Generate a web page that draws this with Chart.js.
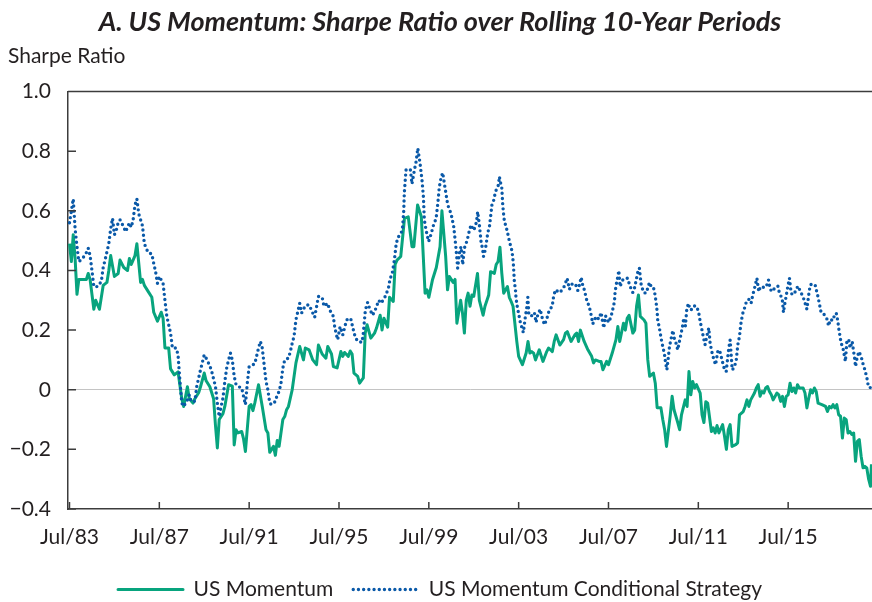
<!DOCTYPE html>
<html>
<head>
<meta charset="utf-8">
<script src="https://cdn.jsdelivr.net/npm/chart.js@4.4.1/dist/chart.umd.min.js"></script>
<style>
  body { margin: 0; overflow: hidden; background: #fff; }
  #wrap { width: 872px; height: 610px; }
</style>
</head>
<body>
<div id="wrap"><canvas id="sharpeChart"></canvas></div>
<script>
// months counted from Jul/83 (0 = Jul/83)
const tickLabels = ["Jul/83", "Jul/87", "Jul/91", "Jul/95", "Jul/99", "Jul/03", "Jul/07", "Jul/11", "Jul/15"];
const tickMonths = [0, 48, 96, 144, 192, 240, 288, 336, 384];
const seriesNames = ["US Momentum", "US Momentum Conditional Strategy"];

const momentumMonths = [
  0, 1, 2, 3, 4, 5, 9, 10, 11, 13,
  14, 16, 18, 20, 21, 22, 24, 26, 27, 29,
  31, 32, 33, 35, 36, 38, 39, 40, 42, 44,
  45, 47, 49, 50, 51, 53, 54, 56, 58, 60,
  61, 63, 64, 66, 67, 69, 70, 72, 73, 75,
  77, 78, 79, 80, 82, 83, 85, 87, 88, 89,
  90, 92, 93, 94, 96, 97, 98, 99, 101, 103,
  105, 106, 107, 109, 110, 111, 112, 114, 115, 116,
  117, 119, 121, 123, 125, 126, 128, 130, 132, 133,
  135, 137, 138, 140, 141, 143, 145, 146, 147, 149,
  150, 151, 152, 154, 155, 157, 158, 159, 161, 163,
  164, 166, 167, 168, 170, 171, 173, 174, 175, 177,
  179, 181, 183, 184, 186, 188, 190, 191, 192, 194,
  196, 198, 199, 201, 202, 203, 205, 206, 207, 209,
  210, 211, 212, 213, 214, 215, 216, 218, 219, 221,
  222, 224, 225, 227, 228, 229, 230, 231, 232, 234,
  235, 236, 237, 239, 240, 242, 244, 245, 246, 247,
  248, 249, 251, 253, 255, 256, 258, 259, 260, 262,
  264, 265, 266, 268, 270, 271, 272, 273, 275, 277,
  279, 280, 281, 283, 284, 285, 287, 288, 290, 292,
  293, 294, 296, 297, 298, 299, 301, 302, 303, 304,
  305, 307, 308, 309, 310, 312, 313, 314, 316, 317,
  318, 319, 321, 322, 323, 325, 326, 327, 329, 330,
  331, 332, 333, 334, 335, 337, 338, 339, 340, 341,
  343, 344, 345, 346, 347, 349, 350, 351, 352, 353,
  354, 356, 357, 358, 360, 361, 362, 363, 364, 366,
  367, 368, 369, 370, 371, 372, 373, 374, 375, 376,
  378, 379, 380, 381, 382, 383, 384, 385, 386, 387,
  388, 389, 390, 392, 393, 394, 395, 396, 397, 398,
  399, 400, 402, 404, 405, 406, 407, 408, 409, 410,
  411, 412, 413, 414, 415, 416, 417, 418, 419, 420,
  421, 422, 423, 424, 425, 426, 427, 428, 428.5
];
const momentumValues = [
  0.49, 0.43, 0.52, 0.44, 0.32, 0.37, 0.37, 0.39, 0.37, 0.27,
  0.30, 0.27, 0.35, 0.36, 0.40, 0.45, 0.38, 0.39, 0.435, 0.41,
  0.40, 0.44, 0.42, 0.45, 0.49, 0.36, 0.37, 0.35, 0.33, 0.31,
  0.26, 0.23, 0.26, 0.24, 0.14, 0.14, 0.07, 0.05, 0.06, -0.03,
  -0.056, 0.01, -0.03, -0.045, -0.03, -0.01, 0.01, 0.056, 0.03, 0.01,
  -0.03, -0.12, -0.195, -0.10, -0.08, -0.056, 0.017, 0.012, -0.185, -0.134,
  -0.145, -0.14, -0.165, -0.207, -0.056, -0.05, -0.07, -0.045, 0.017, -0.056,
  -0.134, -0.145, -0.21, -0.19, -0.22, -0.17, -0.19, -0.10, -0.09, -0.067,
  -0.056, 0.0, 0.09, 0.145, 0.10, 0.14, 0.134, 0.10, 0.084, 0.15,
  0.12, 0.106, 0.145, 0.12, 0.078, 0.073, 0.128, 0.112, 0.125, 0.112,
  0.13, 0.12, 0.056, 0.045, 0.022, 0.04, 0.19, 0.218, 0.173, 0.19,
  0.206, 0.25, 0.20, 0.24, 0.21, 0.31, 0.296, 0.42, 0.435, 0.447,
  0.575, 0.58, 0.48, 0.48, 0.62, 0.58, 0.324, 0.335, 0.31, 0.37,
  0.41, 0.48, 0.60, 0.447, 0.335, 0.38, 0.36, 0.37, 0.223, 0.30,
  0.257, 0.19, 0.30, 0.324, 0.28, 0.318, 0.313, 0.39, 0.30, 0.25,
  0.28, 0.318, 0.396, 0.39, 0.42, 0.43, 0.478, 0.39, 0.324, 0.346,
  0.31, 0.296, 0.28, 0.162, 0.112, 0.084, 0.123, 0.162, 0.123, 0.128,
  0.123, 0.10, 0.134, 0.095, 0.128, 0.14, 0.128, 0.162, 0.184, 0.15,
  0.168, 0.19, 0.195, 0.162, 0.184, 0.19, 0.162, 0.20, 0.162, 0.134,
  0.112, 0.09, 0.10, 0.095, 0.095, 0.067, 0.095, 0.084, 0.123, 0.168,
  0.212, 0.162, 0.223, 0.20, 0.24, 0.25, 0.19, 0.20, 0.28, 0.318,
  0.246, 0.234, 0.223, 0.10, 0.045, 0.056, 0.022, -0.06, -0.06, -0.10,
  -0.134, -0.19, -0.085, -0.022, -0.067, -0.11, -0.134, -0.084, -0.034, -0.056,
  0.061, -0.017, 0.028, 0.006, 0.017, -0.011, -0.084, -0.11, -0.04, -0.045,
  -0.14, -0.128, -0.145, -0.12, -0.145, -0.117, -0.156, -0.20, -0.134, -0.117,
  -0.19, -0.184, -0.178, -0.084, -0.073, -0.056, -0.034, -0.056, -0.034, -0.011,
  0.006, 0.017, -0.022, -0.006, -0.011, 0.006, 0.011, -0.006, -0.017, -0.034,
  -0.011, -0.017, -0.039, -0.022, -0.056, -0.022, -0.017, 0.022, -0.006, 0.006,
  -0.011, 0.017, 0.006, 0.006, -0.011, -0.061, -0.028, 0.0, -0.011, 0.006,
  -0.006, -0.045, -0.05, -0.056, -0.073, -0.056, -0.061, -0.05, -0.061, -0.05,
  -0.084, -0.089, -0.162, -0.095, -0.10, -0.145, -0.14, -0.15, -0.145, -0.24,
  -0.173, -0.167, -0.223, -0.262, -0.257, -0.262, -0.30, -0.324, -0.25
];

const conditionalMonths = [
  0, 1, 2, 3, 4, 5, 7, 9, 10, 11,
  12, 13, 15, 17, 18, 19, 21, 22, 23, 24,
  25, 26, 27, 29, 30, 32, 33, 34, 35, 36,
  37, 39, 40, 42, 44, 45, 46, 47, 48, 50,
  51, 52, 53, 54, 55, 57, 58, 59, 60, 61,
  63, 64, 65, 67, 68, 69, 70, 72, 73, 75,
  76, 78, 79, 80, 81, 82, 83, 84, 85, 86,
  87, 88, 89, 90, 92, 93, 94, 95, 96, 98,
  99, 101, 102, 103, 104, 105, 106, 107, 108, 110,
  111, 112, 113, 114, 115, 117, 118, 119, 120, 121,
  122, 123, 124, 126, 128, 130, 131, 133, 135, 136,
  138, 139, 141, 141.5, 142.4, 143.3, 144.6, 146, 147.4, 148.6,
  150.4, 151.7, 152.7, 154, 156.3, 157, 158.1, 159.3, 160.6, 162,
  163.8, 165.2, 166.5, 168.2, 169.1, 170.6, 171.3, 172.3, 173.6, 174.5,
  175.4, 177.2, 178, 178.6, 178.9, 179.8, 181.3, 182.1, 183, 184.3,
  185.2, 186.1, 187.3, 188.4, 189.1, 189.6, 190.5, 191.9, 193.2, 194.4,
  195.9, 196.8, 197.6, 198.5, 199.4, 200.8, 202.1, 203.9, 205.3, 206.2,
  206.9, 207.4, 208.3, 209.2, 210.1, 211, 211.9, 212.8, 213.7, 214.6,
  215.8, 216.9, 217.6, 218.1, 219, 219.9, 220.8, 221.2, 222.2, 222.9,
  223.5, 224.4, 225.3, 225.8, 226.7, 227.6, 229.2, 229.7, 230.2, 231,
  231.5, 231.9, 232.4, 233.3, 234.2, 235.1, 236.3, 236.8, 237.2, 237.7,
  238.3, 238.6, 239.2, 240, 240.8, 241.8, 242.5, 243.6, 244.3, 244.9,
  245.4, 246.6, 248.4, 249.3, 250.2, 251.5, 252.5, 253.8, 255, 256.4,
  257.9, 258.6, 259.6, 260.9, 262.1, 264.5, 265.9, 267.1, 268.6, 270.3,
  271.6, 272.5, 273.4, 274.3, 275.1, 276.4, 277.8, 278.9, 279.6, 281.4,
  282.8, 284.1, 284.9, 285.5, 286.4, 288.1, 289.4, 290.3, 291.2, 291.5,
  292.1, 293, 293.5, 294.2, 295.3, 296.5, 298.3, 299.2, 301, 301.9,
  302.8, 303.7, 304.5, 305.4, 306.7, 308.1, 309, 309.9, 310.8, 312,
  312.9, 313.5, 314, 314.3, 315.2, 316.1, 317, 317.9, 318.4, 319.2,
  320, 320.6, 321.5, 322.4, 323.3, 324.1, 325, 325.9, 326.8, 327.7,
  328.2, 329.1, 329.8, 330.7, 331.6, 333.1, 334, 335.2, 336.3, 337,
  338, 338.8, 339.6, 340.5, 341.6, 342.3, 343.2, 344.1, 345.2, 346.4,
  347.3, 348.2, 349.1, 350, 350.9, 351.8, 352.3, 353, 354.1, 355,
  356.2, 357.1, 358, 358.4, 358.9, 359.8, 360.7, 361.9, 363, 364.2,
  365.1, 366, 367.3, 368.3, 369.2, 370.5, 372.2, 373.5, 374.4, 375.5,
  376.7, 378.5, 379.4, 380.8, 381.5, 382, 382.9, 383.8, 384.7, 385.6,
  386.5, 387.4, 389.2, 391, 392.2, 393.3, 394, 395.1, 395.8, 397.2,
  398.4, 399.9, 400.8, 401.6, 402.9, 404, 404.9, 405.6, 406.5, 407.9,
  408.8, 409.7, 410.5, 411.1, 411.8, 412.3, 413.2, 414.1, 414.6, 415.4,
  416.4, 417.1, 418.2, 419.5, 420, 420.7, 421.8, 423, 423.9, 425,
  426.1, 426.8, 427.8, 428.6
];
const conditionalValues = [
  0.56, 0.60, 0.64, 0.54, 0.48, 0.43, 0.44, 0.46, 0.475, 0.45,
  0.40, 0.346, 0.346, 0.363, 0.41, 0.435, 0.49, 0.54, 0.575, 0.52,
  0.535, 0.56, 0.57, 0.545, 0.53, 0.56, 0.545, 0.57, 0.62, 0.64,
  0.59, 0.55, 0.49, 0.46, 0.455, 0.424, 0.396, 0.357, 0.38, 0.357,
  0.30, 0.246, 0.218, 0.19, 0.14, 0.14, 0.117, 0.03, -0.045, -0.056,
  -0.034, -0.017, -0.039, -0.039, 0.011, 0.039, 0.067, 0.117, 0.106, 0.08,
  0.061, 0.011, -0.045, -0.09, -0.056, -0.028, 0.028, 0.073, 0.10, 0.123,
  0.10, 0.045, 0.017, 0.011, 0.006, -0.022, -0.05, 0.022, 0.078, 0.084,
  0.087, 0.14, 0.162, 0.14, 0.084, 0.028, 0.0, -0.045, -0.05, -0.039,
  -0.017, -0.006, 0.022, 0.073, 0.10, 0.106, 0.128, 0.156, 0.18, 0.235,
  0.262, 0.29, 0.257, 0.282, 0.285, 0.257, 0.243, 0.313, 0.31, 0.28,
  0.29, 0.268, 0.246, 0.218, 0.19, 0.168, 0.212, 0.184, 0.218, 0.24,
  0.235, 0.20, 0.176, 0.162, 0.159, 0.19, 0.268, 0.293, 0.268, 0.25,
  0.274, 0.30, 0.29, 0.307, 0.318, 0.346, 0.374, 0.385, 0.435, 0.486,
  0.51, 0.525, 0.547, 0.60, 0.66, 0.737, 0.74, 0.74, 0.69, 0.737,
  0.765, 0.81, 0.76, 0.70, 0.647, 0.57, 0.536, 0.497, 0.522, 0.55,
  0.575, 0.625, 0.68, 0.71, 0.728, 0.672, 0.62, 0.59, 0.547, 0.494,
  0.447, 0.408, 0.458, 0.48, 0.42, 0.475, 0.49, 0.51, 0.535, 0.553,
  0.535, 0.547, 0.57, 0.597, 0.553, 0.497, 0.469, 0.447, 0.47, 0.50,
  0.527, 0.547, 0.597, 0.625, 0.636, 0.664, 0.687, 0.715, 0.698, 0.676,
  0.62, 0.592, 0.564, 0.547, 0.523, 0.497, 0.469, 0.447, 0.419, 0.363,
  0.335, 0.307, 0.281, 0.255, 0.229, 0.207, 0.192, 0.246, 0.274, 0.31,
  0.257, 0.246, 0.259, 0.226, 0.251, 0.27, 0.243, 0.218, 0.237, 0.268,
  0.279, 0.31, 0.335, 0.33, 0.326, 0.348, 0.374, 0.337, 0.355, 0.355,
  0.333, 0.352, 0.377, 0.348, 0.335, 0.30, 0.277, 0.246, 0.221, 0.246,
  0.237, 0.259, 0.226, 0.207, 0.248, 0.226, 0.246, 0.27, 0.296, 0.326,
  0.352, 0.38, 0.40, 0.346, 0.366, 0.374, 0.374, 0.352, 0.326, 0.341,
  0.368, 0.396, 0.408, 0.355, 0.326, 0.324, 0.341, 0.36, 0.346, 0.344,
  0.318, 0.29, 0.262, 0.234, 0.207, 0.173, 0.145, 0.12, 0.095, 0.067,
  0.11, 0.145, 0.173, 0.199, 0.168, 0.156, 0.134, 0.162, 0.188, 0.218,
  0.24, 0.214, 0.268, 0.29, 0.268, 0.27, 0.281, 0.279, 0.255, 0.229,
  0.199, 0.173, 0.151, 0.179, 0.207, 0.156, 0.128, 0.106, 0.084, 0.128,
  0.134, 0.112, 0.089, 0.067, 0.061, 0.114, 0.14, 0.167, 0.067, 0.073,
  0.095, 0.151, 0.179, 0.203, 0.229, 0.257, 0.274, 0.30, 0.303, 0.29,
  0.318, 0.34, 0.374, 0.329, 0.346, 0.344, 0.344, 0.368, 0.337, 0.329,
  0.34, 0.348, 0.322, 0.307, 0.259, 0.281, 0.313, 0.346, 0.374, 0.324,
  0.318, 0.324, 0.348, 0.324, 0.307, 0.285, 0.27, 0.324, 0.352, 0.355,
  0.352, 0.313, 0.285, 0.259, 0.255, 0.246, 0.235, 0.214, 0.236, 0.232,
  0.251, 0.257, 0.232, 0.203, 0.176, 0.156, 0.143, 0.112, 0.095, 0.167,
  0.167, 0.14, 0.162, 0.106, 0.078, 0.103, 0.128, 0.112, 0.089, 0.067,
  0.039, 0.013, 0.006, 0.02
];

const textColor = "#231f20";
const axisColor = "#3c3c3c";

function toPoints(months, values) {
  return months.map((m, i) => ({ x: m, y: values[i] }));
}

// top frame line plus the short inward tick marks
const frameTicks = {
  id: "frameTicks",
  afterDatasetsDraw(chart) {
    const { ctx, chartArea: a, scales } = chart;
    ctx.save();
    ctx.strokeStyle = axisColor;
    ctx.lineWidth = 1.5;
    ctx.beginPath();
    ctx.moveTo(a.left, a.top);
    ctx.lineTo(a.right, a.top);
    scales.y.ticks.forEach(t => {
      if (t.value === 0) return;
      const y = scales.y.getPixelForValue(t.value);
      ctx.moveTo(a.left, y);
      ctx.lineTo(a.left + 8, y);
    });
    tickMonths.forEach(m => {
      const x = scales.x.getPixelForValue(m);
      ctx.moveTo(x, a.bottom);
      ctx.lineTo(x, a.bottom - 7);
    });
    ctx.stroke();
    ctx.restore();
  }
};

Chart.defaults.font.family = "Lato";
Chart.defaults.color = textColor;

const ctx = document.getElementById("sharpeChart").getContext("2d");
new Chart(ctx, {
  type: "line",
  data: {
    datasets: [
      {
        label: seriesNames[0],
        data: toPoints(momentumMonths, momentumValues),
        borderColor: "#08a47e",
        backgroundColor: "transparent",
        borderWidth: 3,
        borderJoinStyle: "round",
        pointRadius: 0,
        order: 1
      },
      {
        label: seriesNames[1],
        data: toPoints(conditionalMonths, conditionalValues),
        borderColor: "#0a59a8",
        backgroundColor: "transparent",
        borderWidth: 3.4,
        borderDash: [0, 5.2],
        borderCapStyle: "round",
        pointRadius: 0,
        order: 0
      }
    ]
  },
  options: {
    responsive: true,
    maintainAspectRatio: false,
    animation: false,
    layout: { padding: { left: 8, right: 0, top: 0, bottom: 0 } },
    scales: {
      x: {
        type: "linear",
        min: -0.8,
        max: 428.8,
        afterBuildTicks: scale => {
          scale.ticks = tickMonths.map(v => ({ value: v }));
        },
        afterFit: scale => { scale.height = 50; },
        ticks: {
          autoSkip: false,
          maxRotation: 0,
          padding: 16,
          font: { size: 21 },
          color: textColor,
          callback: v => tickLabels[tickMonths.indexOf(v)]
        },
        grid: { drawOnChartArea: false, drawTicks: false, color: "transparent" },
        border: { display: true, color: axisColor, width: 1.5 }
      },
      y: {
        min: -0.4,
        max: 1.0,
        afterFit: scale => { scale.width = 60; },
        ticks: {
          stepSize: 0.2,
          padding: 17,
          font: { size: 21 },
          color: textColor,
          callback: v => {
            if (Math.abs(v) < 1e-9) return "0";
            const s = Math.abs(v).toFixed(1);
            return v < 0 ? "\u2212" + s : s;
          }
        },
        grid: {
          drawTicks: false,
          lineWidth: 1,
          color: c => (c.tick && Math.abs(c.tick.value) < 1e-9 ? "#c4c4c4" : "transparent")
        },
        border: { display: true, color: axisColor, width: 1.5 }
      }
    },
    plugins: {
      title: {
        display: true,
        text: "A. US Momentum: Sharpe Ratio over Rolling 10-Year Periods",
        color: textColor,
        font: { size: 27, weight: "bold", style: "italic" },
        padding: { top: 6, bottom: 5 }
      },
      subtitle: {
        display: true,
        text: "Sharpe Ratio",
        align: "start",
        color: textColor,
        font: { size: 21 },
        padding: { top: 0, bottom: 23 }
      },
      legend: {
        position: "bottom",
        labels: {
          boxWidth: 65,
          boxHeight: 0,
          padding: 20,
          color: textColor,
          font: { size: 21 },
          sort: (a, b) => a.datasetIndex - b.datasetIndex
        }
      },
      tooltip: { enabled: false }
    }
  },
  plugins: [frameTicks]
});
</script>
</body>
</html>
